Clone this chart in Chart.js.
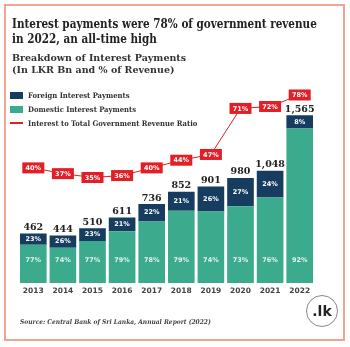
<!DOCTYPE html>
<html>
<head>
<meta charset="utf-8">
<script src="https://cdn.jsdelivr.net/npm/chart.js@4"></script>
<style>
  html, body { margin: 0; padding: 0; background: #fff; }
  #wrap { position: relative; width: 350px; height: 347px; overflow: hidden; }
  #frame { position: absolute; left: 4px; top: 4px; width: 341px; height: 337px; border: 2px solid #f1a48f; box-sizing: border-box; }
  canvas { position: absolute; left: 0; top: 0; }
  .slab { font-family: "DejaVu Serif", serif; font-weight: bold; color: #2a2a2a; position: absolute; white-space: nowrap; }
  .cond { font-stretch: condensed; }
  #title { left: 12px; top: 16px; font-size: 12.5px; line-height: 15px; color: #222; transform: scaleX(0.927); transform-origin: 0 0; }
  #sub { left: 12px; top: 52px; font-size: 9.5px; line-height: 12px; color: #333; }
  #legend { position: absolute; left: 10px; top: 88px; }
  .li { height: 14px; display: flex; align-items: center; font-family: "DejaVu Serif", serif; font-stretch: condensed; font-weight: bold; font-size: 7.6px; color: #333; }
  .sw { width: 13px; height: 7px; margin-right: 5px; }
  .ln { width: 13px; height: 1.5px; margin-right: 5px; }
  #source { left: 20px; top: 318px; font-size: 6.6px; font-style: italic; color: #444; }
  #logo { position: absolute; left: 306px; top: 295px; width: 32px; height: 32px; border: 1.5px solid #888; border-radius: 50%; background: #fff;
          font-family: "DejaVu Sans", sans-serif; font-weight: bold; font-size: 14px; color: #222; display: flex; align-items: center; justify-content: center; box-sizing: border-box; }
</style>
</head>
<body>
<div id="wrap">
  <canvas id="chart" width="350" height="347"></canvas>
  <div id="frame"></div>
  <div id="title" class="slab cond">Interest payments were 78% of government revenue<br>in 2022, an all-time high</div>
  <div id="sub" class="slab">Breakdown of Interest Payments<br>(In LKR Bn and % of Revenue)</div>
  <div id="legend"></div>
  <div id="source" class="slab cond">Source: Central Bank of Sri Lanka, Annual Report (2022)</div>
  <div id="logo">.lk</div>
</div>
<script>
const years = ['2013', '2014', '2015', '2016', '2017', '2018', '2019', '2020', '2021', '2022'];
const totals = [462, 444, 510, 611, 736, 852, 901, 980, 1048, 1565];
const foreignPct = [23, 26, 23, 21, 22, 21, 26, 27, 24, 8];
const domesticPct = [77, 74, 77, 79, 78, 79, 74, 73, 76, 92];
const revenueRatio = [40, 37, 35, 36, 40, 44, 47, 71, 72, 78];

const NAVY = '#163c5f';
const TEAL = '#3caa8c';
const RED = '#e31e26';

const foreignVals = totals.map((t, i) => t * foreignPct[i] / 100);
const domesticVals = totals.map((t, i) => t * domesticPct[i] / 100);

// legend built from the dataset names
const legendItems = [
    {name: 'Foreign Interest Payments', color: NAVY, kind: 'sw'},
    {name: 'Domestic Interest Payments', color: TEAL, kind: 'sw'},
    {name: 'Interest to Total Government Revenue Ratio', color: RED, kind: 'ln'}
];
const legend = document.getElementById('legend');
for (const item of legendItems) {
    const row = document.createElement('div');
    row.className = 'li';
    row.innerHTML = '<span class="' + item.kind + '" style="background:' + item.color + '"></span>' + item.name;
    legend.appendChild(row);
}

const labelsPlugin = {
    id: 'labels',
    afterDatasetsDraw(chart) {
        const ctx = chart.ctx;
        const area = chart.chartArea;
        const domMeta = chart.getDatasetMeta(0);
        const forMeta = chart.getDatasetMeta(1);
        const lineMeta = chart.getDatasetMeta(2);
        ctx.save();
        ctx.textAlign = 'center';
        ctx.textBaseline = 'middle';
        for (let i = 0; i < years.length; i++) {
            const top = forMeta.data[i];
            // total above bar
            ctx.fillStyle = '#222';
            ctx.font = 'bold 9.5px "DejaVu Serif"';
            ctx.fillText(totals[i].toLocaleString('en-US'), top.x, top.y - 6);
            // foreign share
            ctx.fillStyle = '#fff';
            ctx.font = 'bold 6.5px "DejaVu Sans"';
            ctx.fillText(foreignPct[i] + '%', top.x, (top.y + top.base) / 2);
            // domestic share near bottom
            ctx.fillStyle = 'rgba(255,255,255,0.85)';
            ctx.fillText(domesticPct[i] + '%', domMeta.data[i].x, area.bottom - 23);
        }
        // ratio boxes
        for (let i = 0; i < years.length; i++) {
            const p = lineMeta.data[i];
            ctx.fillStyle = RED;
            ctx.fillRect(p.x - 11, p.y - 5.5, 22, 11);
            ctx.fillStyle = '#fff';
            ctx.font = 'bold 6.5px "DejaVu Sans"';
            ctx.fillText(revenueRatio[i] + '%', p.x, p.y + 0.5);
        }
        ctx.restore();
    }
};

const ctx = document.getElementById('chart').getContext('2d');
new Chart(ctx, {
    type: 'bar',
    data: {
        labels: years,
        datasets: [
            {label: 'Domestic Interest Payments', data: domesticVals, backgroundColor: TEAL, stack: 'a', order: 2},
            {label: 'Foreign Interest Payments', data: foreignVals, backgroundColor: NAVY, stack: 'a', order: 2},
            {type: 'line', label: 'Interest to Total Government Revenue Ratio', data: revenueRatio, yAxisID: 'y1',
             borderColor: RED, borderWidth: 1, pointRadius: 0, tension: 0, order: 1}
        ]
    },
    options: {
        responsive: false,
        animation: false,
        categoryPercentage: 0.9,
        barPercentage: 1.0,
        layout: {padding: {left: 18.5, right: 35.5, top: 90, bottom: 47}},
        plugins: {legend: {display: false}, tooltip: {enabled: false}},
        scales: {
            x: {
                stacked: true,
                grid: {display: false, drawTicks: false},
                border: {display: false},
                ticks: {color: '#444', font: {family: 'DejaVu Sans', weight: 'bold', size: 7.5}, padding: 4}
            },
            y: {stacked: true, display: false, min: 0, max: 1800},
            y1: {display: false, min: -20, max: 80.6}
        }
    },
    plugins: [labelsPlugin]
});
</script>
</body>
</html>
